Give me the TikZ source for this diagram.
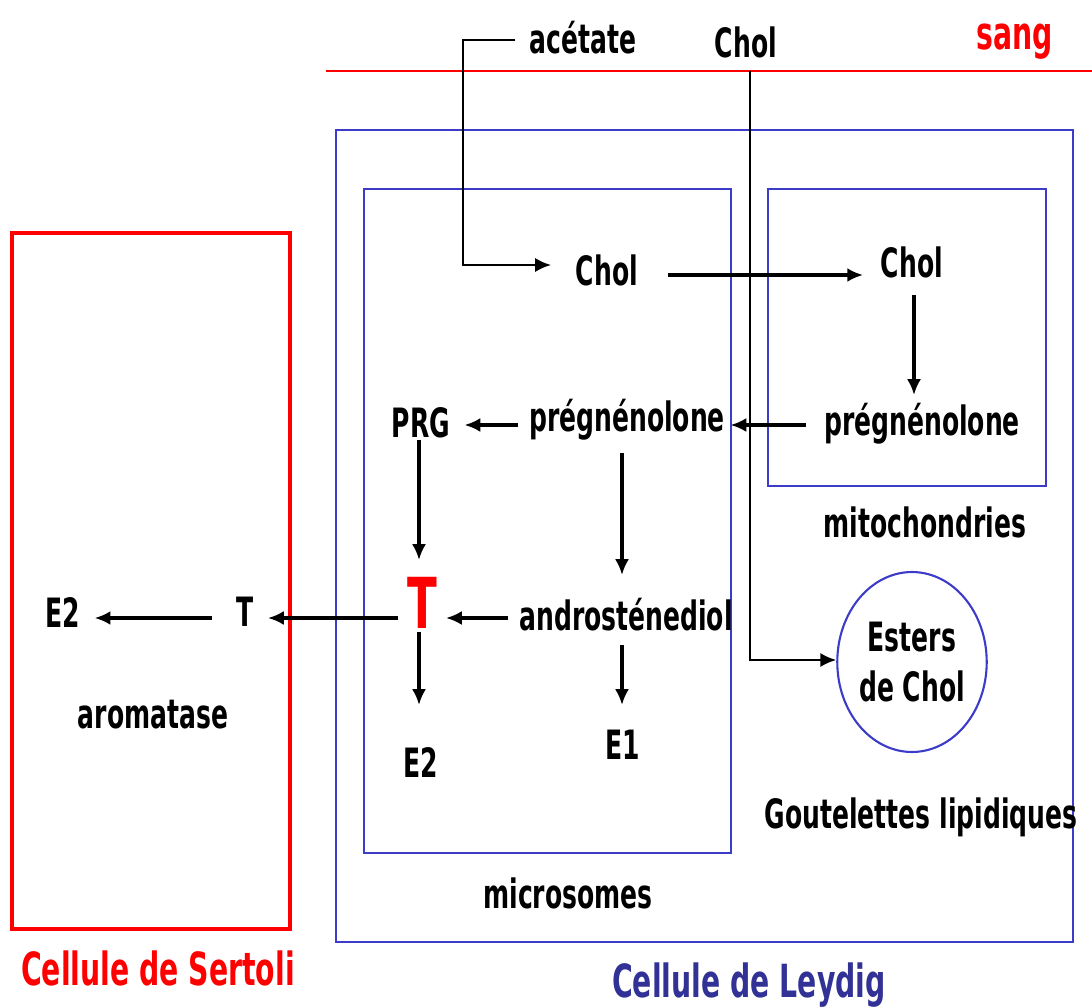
\documentclass[tikz,border=0pt]{standalone}
\usepackage{fontspec}
\setmainfont{DejaVu Sans}[FakeStretch=0.62]
\usepackage{tikz}
\usetikzlibrary{
    positioning,
    arrows.meta,
    shapes.geometric
    }

\definecolor{leydigblue}{RGB}{60,60,200}
\definecolor{leydigtext}{RGB}{50,50,150}

\begin{document}
\begin{tikzpicture}[x=0.02cm, y=-0.02cm]
% chktex-file 8
\tikzset{lbl/.style =
        {
            font=\bfseries\fontsize{23}{26}\selectfont,
            inner sep=0pt,
            text=black
        }
}

\tikzset{cellbox/.style =
        {
            line width=1.2pt,
            draw=leydigblue
        }
}

\tikzset{sertolibox/.style =
        {
            line width=1.8pt,
            draw=red
        }
}

\tikzset{flow/.style = {
            line width=2pt,
            -{Latex[length=9pt,width=8pt]},
            black
        }
}

\tikzset{route/.style = {
            line width=1.3pt,
            -{Latex[length=9pt,width=8pt]},
            black
        }
}

		\useasboundingbox (0,0) rectangle (1092,1007);

		% membranes and compartments
		\draw[red, line width=1.4pt] (326,71) -- (1092,71);
		\draw[cellbox] (336,130) rectangle (1073,942);
		\draw[cellbox] (364,189) rectangle (731,853);
		\draw[cellbox] (768,189) rectangle (1046,486);
		\draw[sertolibox] (12,233) rectangle (290,929);

		% labels
		\foreach \name / \x / \y / \txt in
			{acetate/583/38/{acétate},
				cholsang/746/42/Chol,
				cholmic/607/270/Chol,
				cholmit/912/262/Chol,
				pregmit/922/424/prégnénolone,
				pregmic/627/420/prégnénolone,
				prg/421/423/PRG,
				andro/626/615/androsténediol,
				e2mic/421/762/E2,
				e1/623/745/E1,
				tser/245/612/T,
				e2ser/63/612/E2,
				aromatase/153/715/aromatase,
				goutelettes/921/817/Goutelettes lipidiques,
				mitochondries/925/522/mitochondries,
				microsomes/568/893/microsomes}
		\node[lbl] (\name) at (\x,\y) {\txt};

		\node[lbl, text=red, font=\bfseries\fontsize{26}{29}\selectfont] (sang) at (1015,42) {sang};
		\node[lbl, text=red, font=\bfseries\fontsize{40}{44}\selectfont] (tmic) at (422,603) {T};
		\node[lbl, text=red, font=\bfseries\fontsize{26}{29}\selectfont] (sertoli) at (158,968) {Cellule de Sertoli};
		\node[lbl, text=leydigtext, font=\bfseries\fontsize{26}{29}\selectfont] (leydig) at (749,985) {Cellule de Leydig};

		\node[lbl, draw=leydigblue, line width=1.2pt, ellipse, align=center, inner sep=0pt,
			minimum width=2.8cm, minimum height=3.6cm, font=\bfseries\fontsize{23}{28}\selectfont]
			(esters) at (912,662) {Esters\\de Chol};

		% entries from the blood
		\coordinate (acetcorner) at (463,40);
		\coordinate (acetdown) at (463,265);
		\coordinate (cholcorner) at (750,660);
		\coordinate (cholredline) at (750,71);
		\draw[route] ([xshift=-8pt]acetate.west |- 0,40) -- (acetcorner) -- (acetdown) -- ([xshift=-14pt]cholmic.west |- acetdown);
		\draw[route] (cholredline) -- (cholcorner) -- (esters.west |- cholcorner);

		% conversions
		\draw[flow] ([xshift=17pt]cholmic.east |- 0,275) -- ([xshift=-10pt]cholmit.west |- 0,275);
		\draw[flow] (914,295) -- (914,395);
		\draw[flow] ([xshift=-10pt]pregmit.west |- 0,425) -- ([xshift=3pt]pregmic.east |- 0,425);
		\draw[flow] ([xshift=-6pt]pregmic.west |- 0,425) -- ([xshift=8pt]prg.east |- 0,425);
		\draw[flow] (419,440) -- (419,560);
		\draw[flow] (622,453) -- (622,575);
		\draw[flow] ([xshift=-6pt]andro.west |- 0,618) -- ([xshift=5pt]tmic.east |- 0,618);
		\draw[flow] ([xshift=-5pt]tmic.west |- 0,618) -- ([xshift=8pt]tser.east |- 0,618);
		\draw[flow] ([xshift=-14pt]tser.west |- 0,618) -- ([xshift=8pt]e2ser.east |- 0,618);
		\draw[flow] (419,632) -- (419,705);
		\draw[flow] (622,645) -- (622,705);

	\end{tikzpicture}
\end{document}
